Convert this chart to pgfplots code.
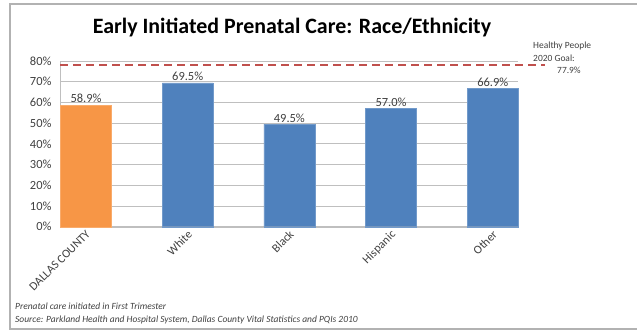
\documentclass[border=0pt]{standalone}
\usepackage{pgfplots}
\pgfplotsset{compat=1.18}
\usepackage{fontspec}
\setmainfont{Carlito}
\definecolor{xlorange}{HTML}{F79646}
\definecolor{xlblue}{HTML}{4F81BD}
\definecolor{xlred}{HTML}{C0504D}
\definecolor{txtgray}{HTML}{404040}
\definecolor{gridgray}{HTML}{BFBFBF}
\begin{document}
\begin{tikzpicture}
\useasboundingbox (0,0) rectangle (637bp,-330bp);
\draw[gray!60, line width=1.2bp] (637bp,-4bp) -- (10bp,-4bp) -- (10bp,-329bp) -- (637bp,-329bp);
\node[font=\fontsize{22}{26}\selectfont\bfseries] at (292bp,-28bp) {Early Initiated Prenatal Care: Race/Ethnicity};
\begin{axis}[
  at={(60bp,-226.7bp)}, anchor=south west,
  scale only axis, width=458bp, height=165.7bp,
  xmin=-0.2557, xmax=4.248, ymin=0, ymax=80,
  clip=false,
  axis x line*=bottom, axis y line*=left,
  axis line style={gridgray, -},
  ytick={0,10,...,80},
  yticklabel={\pgfmathprintnumber{\tick}\%},
  /pgf/number format/assume math mode=true,
  ymajorgrids, grid style={gridgray, line width=0.8bp},
  major tick length=0pt,
  xtick={0,1,2,3,4},
  xticklabels={DALLAS COUNTY, White, Black, Hispanic, Other},
  x tick label style={rotate=45, anchor=north east, font=\fontsize{12}{14}\selectfont, text=txtgray, yshift=2bp, xshift=1bp},
  yticklabel style={font=\fontsize{12.5}{14}\selectfont, text=txtgray, anchor=east, xshift=-5bp},
]
\addplot[ybar, bar width=50.8bp, bar shift=0pt, fill=xlorange, draw=xlorange!80!white,
  nodes near coords={\pgfmathprintnumber[fixed,fixed zerofill,precision=1]{\pgfplotspointmeta}\%},
  nodes near coords style={font=\fontsize{12.5}{14}\selectfont, text=txtgray, inner sep=1.5bp}] coordinates {(0,58.9)};
\addplot[ybar, bar width=50.8bp, bar shift=0pt, fill=xlblue, draw=xlblue!80!white,
  nodes near coords={\pgfmathprintnumber[fixed,fixed zerofill,precision=1]{\pgfplotspointmeta}\%},
  nodes near coords style={font=\fontsize{12.5}{14}\selectfont, text=txtgray, inner sep=1.5bp}] coordinates {(1,69.5) (2,49.5) (3,57.0) (4,66.9)};
\addplot[no marks, draw=xlred, line width=1.8bp, dash pattern=on 8bp off 5bp] coordinates {(-0.2557,77.9) (4.513,77.9)};
\end{axis}
\node[anchor=north west, align=left, font=\fontsize{9.5}{12.5}\selectfont, text=txtgray, inner sep=0pt] at (533bp,-42bp) {Healthy People\\2020 Goal:\\\hspace*{24bp}77.9\%};
\node[anchor=base west, font=\fontsize{9.5}{11}\selectfont\itshape, text=txtgray, inner sep=0pt] at (15bp,-309bp) {Prenatal care initiated in First Trimester};
\node[anchor=base west, font=\fontsize{9.5}{11}\selectfont\itshape, text=txtgray, inner sep=0pt] at (15bp,-322bp) {Source: Parkland Health and Hospital System, Dallas County Vital Statistics and PQIs 2010};
\end{tikzpicture}
\end{document}
